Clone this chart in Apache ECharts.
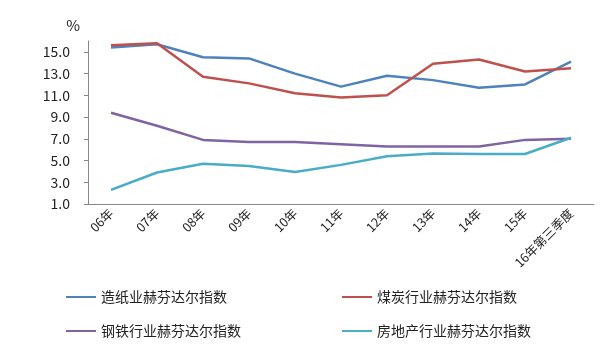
<!DOCTYPE html>
<html><head><meta charset="utf-8">
<script src="https://cdn.jsdelivr.net/npm/echarts@6/dist/echarts.min.js"></script>
<style>html,body{margin:0;padding:0;background:#fff}#c{width:600px;height:359px}</style>
</head><body><div id="c"></div>
<script>
const categories = ['06年','07年','08年','09年','10年','11年','12年','13年','14年','15年','16年第三季度'];
const paper = [15.4,15.7,14.5,14.4,13.0,11.8,12.8,12.4,11.7,12.0,14.1];
const coal = [15.6,15.8,12.7,12.1,11.2,10.8,11.0,13.9,14.3,13.2,13.5];
const steel = [9.4,8.2,6.9,6.7,6.7,6.5,6.3,6.3,6.3,6.9,7.0];
const realEstate = [2.3,3.9,4.7,4.5,3.95,4.6,5.4,5.65,5.6,5.6,7.1];
const seriesNames = ['造纸业赫芬达尔指数','煤炭行业赫芬达尔指数','钢铁行业赫芬达尔指数','房地产行业赫芬达尔指数'];
const colors = ['#4F81BD','#C0504D','#8064A2','#4BACC6'];
const seriesData = [paper, coal, steel, realEstate];

const chart = echarts.init(document.getElementById('c'));
const font = '"Noto Sans CJK SC", sans-serif';
const legendPos = [[66,290],[342,290],[66,324],[342,324]];
chart.setOption({
  animation:false,
  textStyle:{fontFamily:font},
  grid:{left:88,right:6,top:41,bottom:155},
  legend: seriesNames.map((n,i)=>({
    data:[n], left:legendPos[i][0], top:legendPos[i][1], padding:0,
    icon:'rect', itemWidth:30, itemHeight:2, itemGap:5,
    textStyle:{fontSize:14,color:'#222',fontFamily:font}
  })),
  xAxis:{
    type:'category', data:categories, boundaryGap:true,
    axisLine:{lineStyle:{color:'#888'}},
    axisTick:{length:4,lineStyle:{color:'#888'}},
    axisLabel:{rotate:45,interval:0,fontSize:12.5,color:'#222',margin:7,fontFamily:font}
  },
  yAxis:{
    type:'value', min:1, max:16, interval:2,
    name:'%', nameLocation:'end', nameGap:8,
    nameTextStyle:{fontSize:15,color:'#222',align:'right',padding:[0,8,0,0]},
    axisLine:{show:true,lineStyle:{color:'#888'}},
    axisTick:{show:true,length:4,lineStyle:{color:'#888'}},
    splitLine:{show:false},
    axisLabel:{fontSize:14,color:'#222',margin:18,showMaxLabel:false,formatter:v=>v.toFixed(1),fontFamily:font}
  },
  series: seriesNames.map((n,i)=>({
    name:n, type:'line', data:seriesData[i], symbol:'none',
    lineStyle:{width:2.5,color:colors[i]}, itemStyle:{color:colors[i]}
  }))
});
</script></body></html>
